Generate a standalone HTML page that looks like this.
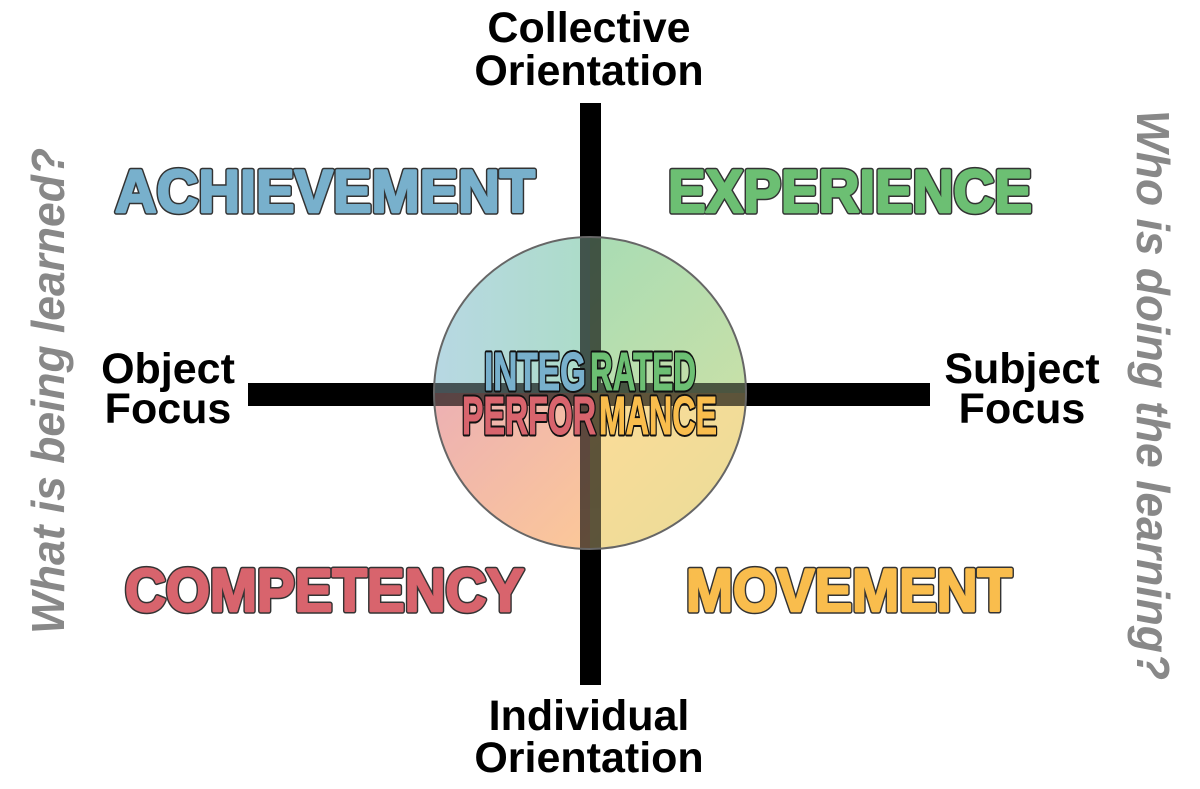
<!DOCTYPE html>
<html><head><style>html,body{margin:0;padding:0;background:#fff}svg{display:block}</style></head>
<body>
<svg width="1200" height="789" viewBox="0 0 1200 789" xmlns="http://www.w3.org/2000/svg" font-family="Liberation Sans, sans-serif" font-weight="bold">
<defs>
<clipPath id="c"><circle cx="590" cy="393" r="156"/></clipPath>
<linearGradient id="gtl" x1="0" y1="0" x2="1" y2="0"><stop offset="0" stop-color="#b8d8e4"/><stop offset="1" stop-color="#acdcc8"/></linearGradient>
<linearGradient id="gtr" x1="0" y1="0" x2="1" y2="1"><stop offset="0" stop-color="#a8dcb4"/><stop offset="1" stop-color="#c8e0a8"/></linearGradient>
<linearGradient id="gbl" x1="0" y1="0" x2="1" y2="1"><stop offset="0" stop-color="#ecb0b4"/><stop offset="1" stop-color="#fcc898"/></linearGradient>
<linearGradient id="gbr" x1="0" y1="0" x2="1" y2="1"><stop offset="0" stop-color="#fcdc98"/><stop offset="1" stop-color="#e8dc98"/></linearGradient>
</defs>
<rect x="580" y="103" width="21" height="582" fill="#000"/>
<rect x="248" y="383" width="682" height="23" fill="#000"/>
<g clip-path="url(#c)">
<rect x="430" y="235" width="160" height="158" fill="url(#gtl)"/>
<rect x="590" y="235" width="160" height="158" fill="url(#gtr)"/>
<rect x="430" y="393" width="160" height="160" fill="url(#gbl)"/>
<rect x="590" y="393" width="160" height="160" fill="url(#gbr)"/>
<g opacity="0.62">
<rect x="580" y="230" width="21" height="330" fill="#000"/>
<rect x="430" y="383" width="330" height="23" fill="#000"/>
</g>
</g>
<circle cx="590" cy="393" r="156" fill="none" stroke="#666" stroke-width="2"/>
<g font-size="54">
<g stroke="#111" stroke-width="5" stroke-linejoin="round">
<text x="484" y="390" textLength="102" lengthAdjust="spacingAndGlyphs">INTEG</text>
<text x="590" y="390" textLength="106" lengthAdjust="spacingAndGlyphs">RATED</text>
<text x="462" y="434" textLength="134" lengthAdjust="spacingAndGlyphs">PERFOR</text>
<text x="599" y="434" textLength="118" lengthAdjust="spacingAndGlyphs">MANCE</text>
</g>
<g stroke-width="1">
<text x="484" y="390" textLength="102" lengthAdjust="spacingAndGlyphs" fill="#78b0cc" stroke="#78b0cc">INTEG</text>
<text x="590" y="390" textLength="106" lengthAdjust="spacingAndGlyphs" fill="#6cbf73" stroke="#6cbf73">RATED</text>
<text x="462" y="434" textLength="134" lengthAdjust="spacingAndGlyphs" fill="#d8646d" stroke="#d8646d">PERFOR</text>
<text x="599" y="434" textLength="118" lengthAdjust="spacingAndGlyphs" fill="#f9bd4d" stroke="#f9bd4d">MANCE</text>
</g>
</g>
<g font-size="60">
<g stroke="#333" stroke-width="5.5" stroke-linejoin="round">
<text x="115" y="212" textLength="420" lengthAdjust="spacingAndGlyphs">ACHIEVEMENT</text>
<text x="668" y="212" textLength="364" lengthAdjust="spacingAndGlyphs">EXPERIENCE</text>
<text x="125" y="611" textLength="399" lengthAdjust="spacingAndGlyphs">COMPETENCY</text>
<text x="686" y="611" textLength="326" lengthAdjust="spacingAndGlyphs">MOVEMENT</text>
</g>
<g stroke-width="2.5" stroke-linejoin="round">
<text x="115" y="212" textLength="420" lengthAdjust="spacingAndGlyphs" fill="#78b0cc" stroke="#78b0cc">ACHIEVEMENT</text>
<text x="668" y="212" textLength="364" lengthAdjust="spacingAndGlyphs" fill="#6cbf73" stroke="#6cbf73">EXPERIENCE</text>
<text x="125" y="611" textLength="399" lengthAdjust="spacingAndGlyphs" fill="#d8646d" stroke="#d8646d">COMPETENCY</text>
<text x="686" y="611" textLength="326" lengthAdjust="spacingAndGlyphs" fill="#f9bd4d" stroke="#f9bd4d">MOVEMENT</text>
</g>
</g>
<g font-size="43" fill="#000" text-anchor="middle">
<text x="589" y="42">Collective</text>
<text x="589" y="85">Orientation</text>
<text x="589" y="730">Individual</text>
<text x="589" y="772">Orientation</text>
<text x="168" y="383">Object</text>
<text x="168" y="423">Focus</text>
<text x="1022" y="383">Subject</text>
<text x="1022" y="423">Focus</text>
</g>
<g font-size="46" font-style="italic" fill="#888" text-anchor="middle">
<text transform="translate(64,391) rotate(-90)" textLength="486" lengthAdjust="spacingAndGlyphs">What is being learned?</text>
<text transform="translate(1137,395) rotate(90)" textLength="570" lengthAdjust="spacingAndGlyphs">Who is doing the learning?</text>
</g>
</svg>
</body></html>
